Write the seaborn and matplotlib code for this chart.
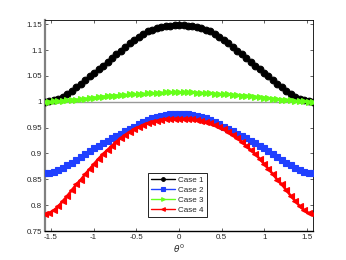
import numpy as np
import pandas as pd
import seaborn as sns
import matplotlib
matplotlib.use("Agg")
import matplotlib.pyplot as plt

# sample angles (rad), -pi/2 .. pi/2
theta = np.linspace(-np.pi / 2, np.pi / 2, 61)

case1 = [1.000, 1.001, 1.003, 1.006, 1.010, 1.015, 1.021, 1.028, 1.035, 1.042,
         1.049, 1.056, 1.063, 1.070, 1.077, 1.085, 1.092, 1.099, 1.106, 1.113,
         1.120, 1.126, 1.131, 1.136, 1.139, 1.142, 1.144, 1.146, 1.147, 1.148,
         1.148,
         1.148, 1.147, 1.146, 1.144, 1.142, 1.139, 1.136, 1.131, 1.126, 1.120,
         1.113, 1.106, 1.099, 1.092, 1.085, 1.077, 1.070, 1.063, 1.056, 1.049,
         1.042, 1.035, 1.028, 1.021, 1.015, 1.010, 1.006, 1.003, 1.001, 1.000]

case2 = [0.862, 0.863, 0.865, 0.868, 0.872, 0.877, 0.882, 0.888, 0.894, 0.899,
         0.905, 0.910, 0.915, 0.920, 0.925, 0.929, 0.934, 0.938, 0.943, 0.947,
         0.952, 0.956, 0.960, 0.964, 0.968, 0.971, 0.973, 0.975, 0.976, 0.977,
         0.977,
         0.977, 0.976, 0.975, 0.973, 0.971, 0.968, 0.964, 0.960, 0.956, 0.952,
         0.947, 0.943, 0.938, 0.934, 0.929, 0.925, 0.920, 0.915, 0.910, 0.905,
         0.899, 0.894, 0.888, 0.882, 0.877, 0.872, 0.868, 0.865, 0.863, 0.862]

case3 = [1.000, 1.000, 1.001, 1.001, 1.002, 1.003, 1.004, 1.004, 1.005, 1.006,
         1.007, 1.008, 1.009, 1.010, 1.011, 1.012, 1.012, 1.013, 1.013, 1.014,
         1.014, 1.015, 1.015, 1.016, 1.016, 1.017, 1.017, 1.018, 1.018, 1.018,
         1.018,
         1.018, 1.018, 1.018, 1.017, 1.017, 1.016, 1.016, 1.015, 1.015, 1.014,
         1.014, 1.013, 1.013, 1.012, 1.012, 1.011, 1.010, 1.009, 1.008, 1.007,
         1.006, 1.005, 1.004, 1.004, 1.003, 1.002, 1.001, 1.001, 1.000, 1.000]

case4 = [0.782, 0.785, 0.790, 0.798, 0.808, 0.818, 0.829, 0.840, 0.849, 0.860,
         0.870, 0.880, 0.890, 0.899, 0.907, 0.915, 0.923, 0.930, 0.936, 0.942,
         0.947, 0.951, 0.955, 0.958, 0.961, 0.963, 0.965, 0.966, 0.966, 0.967,
         0.967,
         0.967, 0.966, 0.966, 0.965, 0.963, 0.961, 0.958, 0.955, 0.951, 0.947,
         0.942, 0.936, 0.930, 0.923, 0.915, 0.907, 0.899, 0.890, 0.880, 0.870,
         0.860, 0.849, 0.840, 0.829, 0.818, 0.808, 0.798, 0.790, 0.785, 0.782]

case_names = ["Case 1", "Case 2", "Case 3", "Case 4"]
xticks = [-1.5, -1, -0.5, 0, 0.5, 1, 1.5]
xtick_labels = ["-1.5", "-1", "-0.5", "0", "0.5", "1", "1.5"]
yticks = [0.75, 0.8, 0.85, 0.9, 0.95, 1.0, 1.05, 1.1, 1.15]
ytick_labels = ["0.75", "0.8", "0.85", "0.9", "0.95", "1", "1.05", "1.1", "1.15"]

df = pd.concat(
    [pd.DataFrame({"theta": theta, "value": vals, "case": name})
     for name, vals in zip(case_names, [case1, case2, case3, case4])],
    ignore_index=True,
)

sns.set_style("ticks")
plt.rcParams["font.family"] = ["Liberation Sans", "DejaVu Sans"]
plt.rcParams["mathtext.fontset"] = "dejavusans"

palette = {"Case 1": "#000000", "Case 2": "#2040FF",
           "Case 3": "#66FF1A", "Case 4": "#FF0000"}
markers = {"Case 1": "o", "Case 2": "s", "Case 3": ">", "Case 4": "<"}

fig = plt.figure(figsize=(3.46, 2.60), dpi=100)
ax = fig.add_axes([0.130, 0.1115, 0.775, 0.8115])

ax.axhline(1.0, color="#999999", lw=1.0, zorder=1)

sns.lineplot(
    data=df, x="theta", y="value", hue="case", style="case",
    palette=palette, markers=markers, dashes=False, sort=False,
    markersize=4.8, linewidth=1.8, ax=ax, zorder=3,
)
# seaborn draws white marker edges; make them the line colour (MATLAB look)
for line in ax.lines[1:]:
    line.set_markeredgecolor(line.get_color())
    line.set_markeredgewidth(0.8)

ax.set_xlim(-np.pi / 2, np.pi / 2)
ax.set_ylim(0.75, 1.158)
ax.set_xticks(xticks)
ax.set_xticklabels(xtick_labels)
ax.set_yticks(yticks)
ax.set_yticklabels(ytick_labels)
ax.tick_params(direction="in", length=2.5, width=0.5, labelsize=5.8,
               top=True, right=True, pad=2)
ax.set_xlabel(r"$\theta^0$", fontsize=6.5, labelpad=1)
ax.set_ylabel("")

for side in ["top", "right", "bottom"]:
    ax.spines[side].set_linewidth(0.6)
    ax.spines[side].set_color("black")
ax.spines["bottom"].set_linewidth(1.0)
ax.spines["left"].set_color("#808080")
ax.spines["left"].set_linewidth(1.6)

handles, labels = ax.get_legend_handles_labels()
leg = ax.legend(
    handles, labels, loc="lower center", bbox_to_anchor=(0.494, 0.047),
    fontsize=5.8, frameon=True, fancybox=False, edgecolor="black",
    framealpha=1, handlelength=3.0, borderpad=0.4, labelspacing=0.3,
    handletextpad=0.4, markerscale=0.55,
)
leg.get_frame().set_linewidth(0.6)
for line in leg.get_lines():
    line.set_linewidth(1.0)
    line.set_markeredgecolor(line.get_color())

fig.savefig("out.png", dpi=100)
plt.close(fig)
